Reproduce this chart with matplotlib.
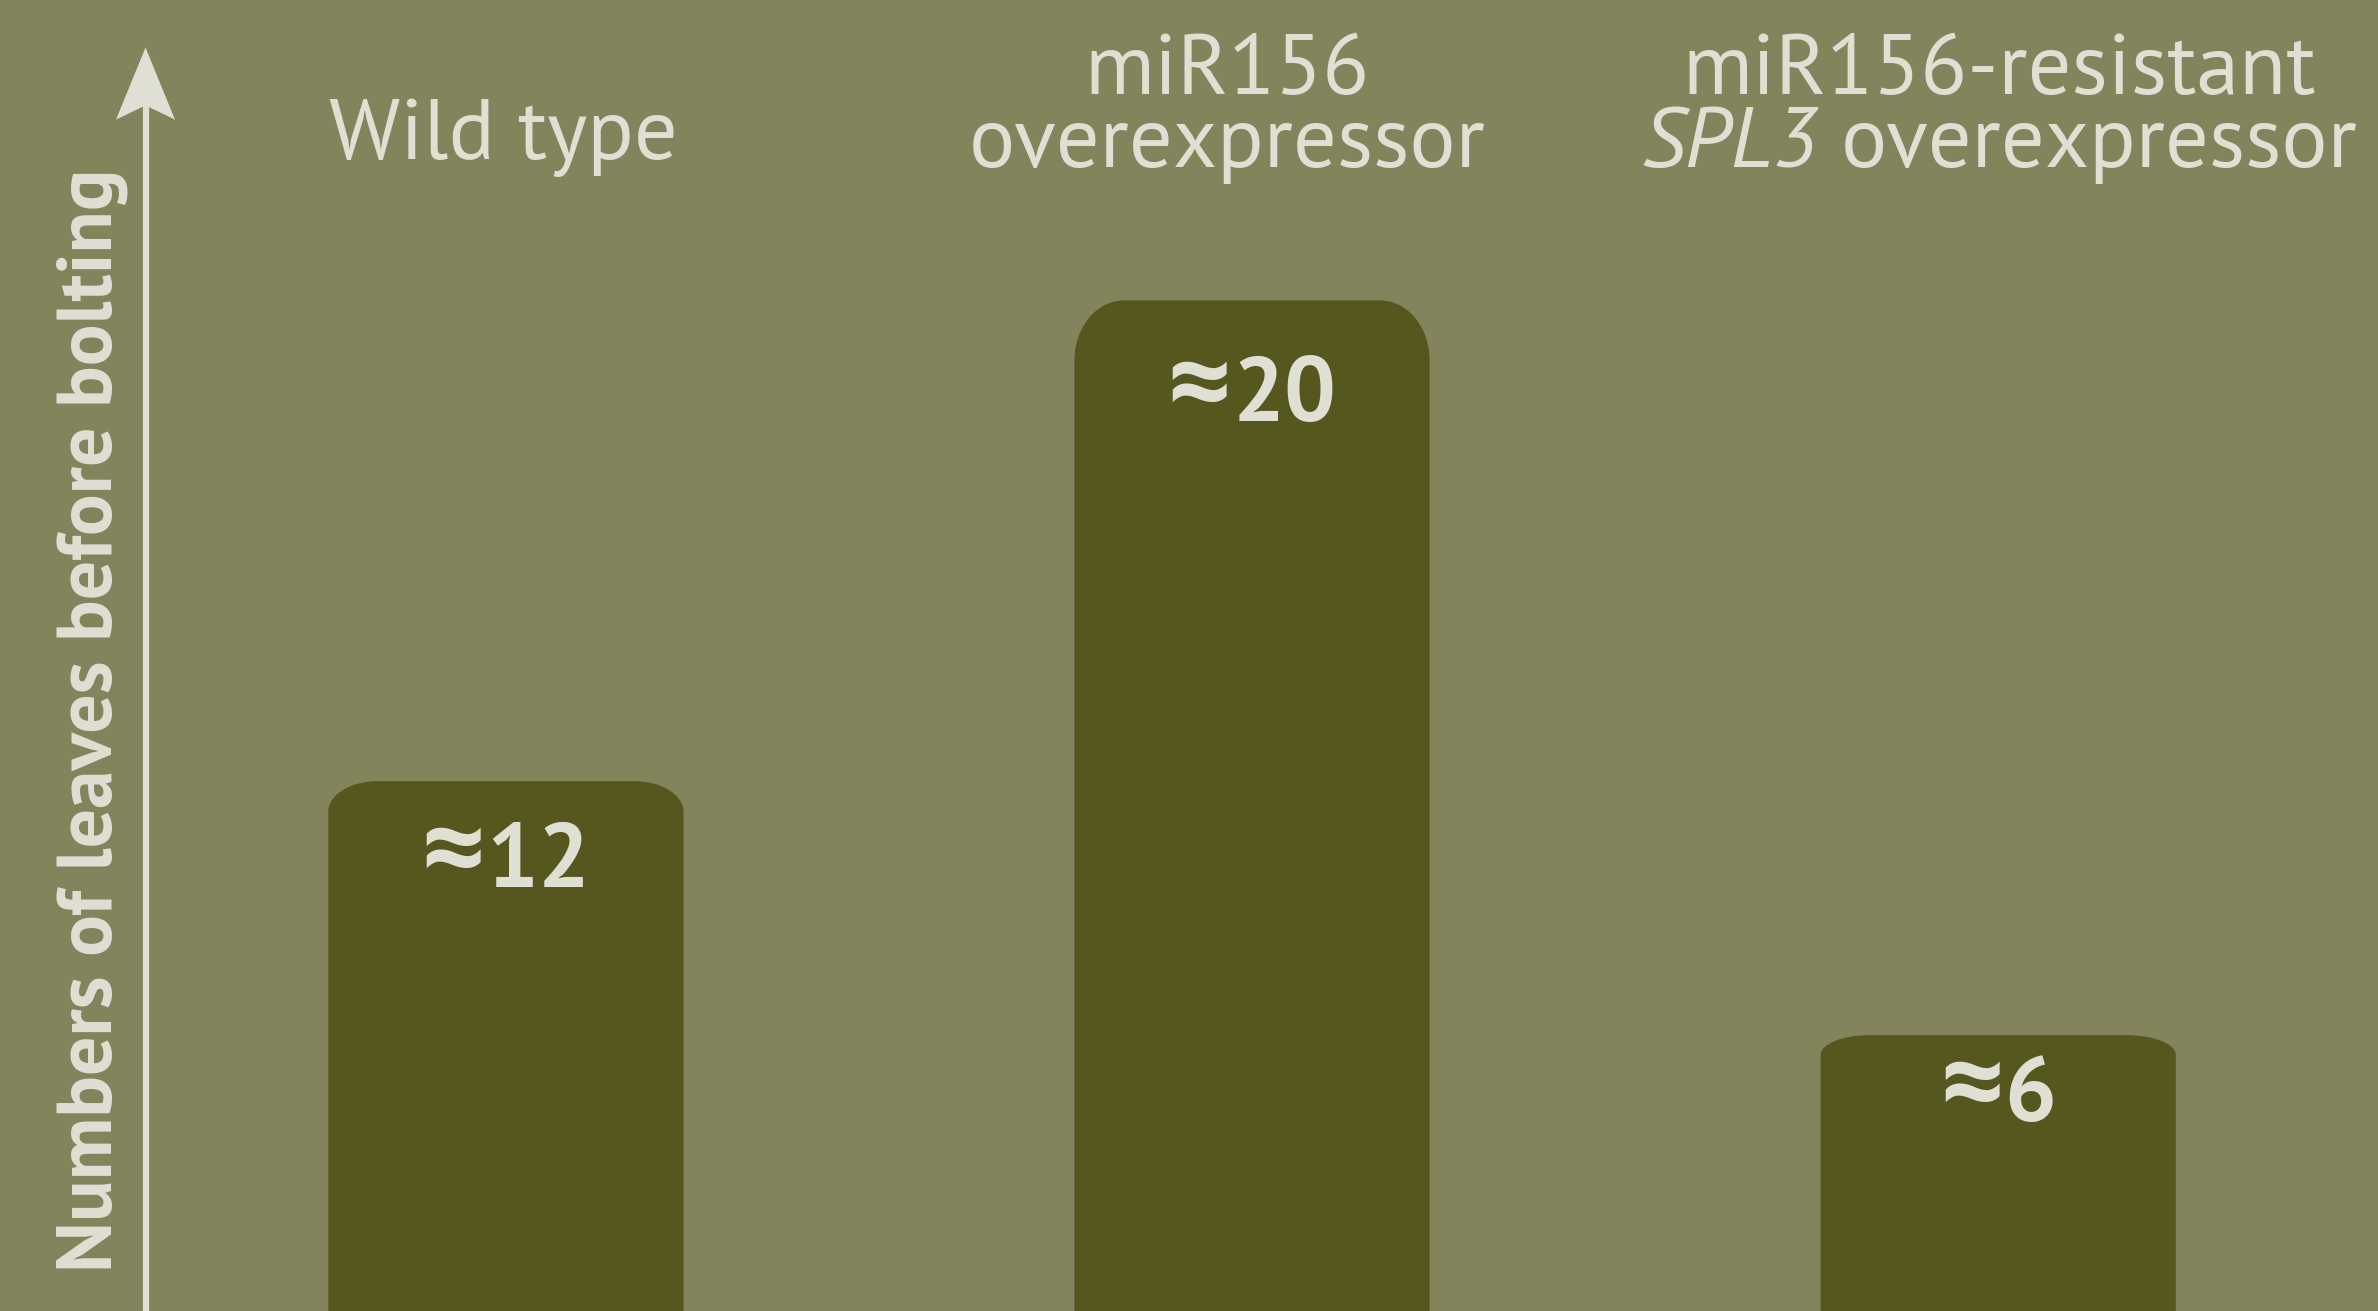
import matplotlib
matplotlib.use("Agg")
import numpy as np
from matplotlib import pyplot as plt
from matplotlib import font_manager
from matplotlib.patches import PathPatch, Polygon
from matplotlib.path import Path
from matplotlib.transforms import offset_copy

# data
genotypes = ["Wild type", "miR156 overexpressor", "miR156-resistant SPL3 overexpressor"]
# each title line is a list of (text, italic) pieces
title_lines = [[[], [("Wild type", False)]],
               [[("miR156", False)], [("overexpressor", False)]],
               [[("miR156-resistant", False)], [("SPL3", True), ("overexpressor", False)]]]
bar_heights = [9.7, 18.5, 5.05]          # drawn height (schematic units)
approx_sign = "\u2248"
value_labels = ["12", "20", "6"]
ylabel = "Numbers of leaves before bolting"

# colours
bg = "#83835c"
bar_col = "#56571f"
txt_col = "#dfdfd4"

# pick a Myriad-like face if present
installed = {f.name for f in font_manager.fontManager.ttflist}
face = "PT Sans" if "PT Sans" in installed else "Open Sans"
sign_face = "Open Sans" if "Open Sans" in installed else "DejaVu Sans"
plt.rcParams['font.family'] = [face, "DejaVu Sans"]

DPI = 100
fig = plt.figure(figsize=(23.78, 13.11), dpi=DPI, facecolor=bg)
ax = fig.add_axes([0, 0, 1, 1])
ax.set_facecolor(bg)
ax.set_xlim(-0.678, 2.509)
ax.set_ylim(0, 24)
ax.axis('off')
renderer = fig.canvas.get_renderer()


def rounded_top_bar(x0, y0, w, h, rx, ry):
  # rectangle with elliptical top corners (cubic bezier arcs)
  k = 0.5523
  x1, y1 = x0 + w, y0 + h
  verts = [(x0, y0), (x0, y1 - ry),
           (x0, y1 - ry + k*ry), (x0 + rx - k*rx, y1), (x0 + rx, y1),
           (x1 - rx, y1),
           (x1 - rx + k*rx, y1), (x1, y1 - ry + k*ry), (x1, y1 - ry),
           (x1, y0), (x0, y0)]
  codes = [Path.MOVETO, Path.LINETO,
           Path.CURVE4, Path.CURVE4, Path.CURVE4,
           Path.LINETO,
           Path.CURVE4, Path.CURVE4, Path.CURVE4,
           Path.LINETO, Path.CLOSEPOLY]
  return Path(verts, codes)


def draw_pieces(x, y, pieces, dx_pts=0, dy_pts=0, gap_pts=0, **kw):
  # draw text pieces side by side, centred as a whole on (x, y)
  texts = []
  for t, props in pieces:
    tx = ax.text(x, y, t, ha='left', va='baseline', **props, **kw)
    texts.append(tx)
  widths = [tx.get_window_extent(renderer).width * 72.0 / DPI for tx in texts]
  total = sum(widths) + gap_pts * (len(texts) - 1)
  cur = -total / 2.0 + dx_pts
  for tx, wd in zip(texts, widths):
    tx.set_transform(offset_copy(ax.transData, fig, x=cur, y=dy_pts,
                                 units='points'))
    cur += wd + gap_pts


xpos = np.arange(len(genotypes))
width = 0.476
rx = 0.066                          # corner radius in x units
ry_list = [0.56, 1.10, 0.36]        # corner radius in y units
label_drop_pts = [76, 87, 62]       # baseline of value label below bar top

for x, h, ry, lab, drop in zip(xpos, bar_heights, ry_list, value_labels,
                               label_drop_pts):
  bottom = -3
  path = rounded_top_bar(x - width/2, bottom, width, h - bottom, rx, ry)
  ax.add_patch(PathPatch(path, fc=bar_col, ec='none', zorder=2))
  draw_pieces(x, h, [(approx_sign, dict(family=[sign_face, "DejaVu Sans"],
                                        fontsize=80)),
                     (lab, dict(fontsize=66))],
              dy_pts=-drop, gap_pts=1, fontweight='bold', color=txt_col,
              zorder=3)

# titles above bars, one line at a time
line_y = [22.28, 20.94]
title_dx_pts = [-2, -18, 1]
for x, lines, dx in zip(xpos, title_lines, title_dx_pts):
  for i, pieces in enumerate(lines):
    if not pieces:
      continue
    y = line_y[i]
    if not lines[0]:
      y = 21.09
    parts = [(t, dict(style='italic' if it else 'normal')) for t, it in pieces]
    draw_pieces(x, y, parts, dx_pts=dx, gap_pts=16, fontsize=62,
                color=txt_col)

# y axis arrow
ax_x = -0.483
top = 23.13
ax.plot([ax_x, ax_x], [-1, 22.2], color=txt_col, lw=4.5, solid_capstyle='butt',
        zorder=3)
hw = 29.5 / 746.0
head = Polygon([[ax_x, top], [ax_x + hw, 21.81], [ax_x, 22.07],
                [ax_x - hw, 21.81]], closed=True, fc=txt_col, ec='none',
               zorder=3)
ax.add_patch(head)

ax.text(-0.555, 10.82, ylabel, rotation=90, ha='center', va='center',
        fontsize=56, fontweight='bold', color=txt_col)

plt.savefig('out.png', dpi=DPI, facecolor=bg)
